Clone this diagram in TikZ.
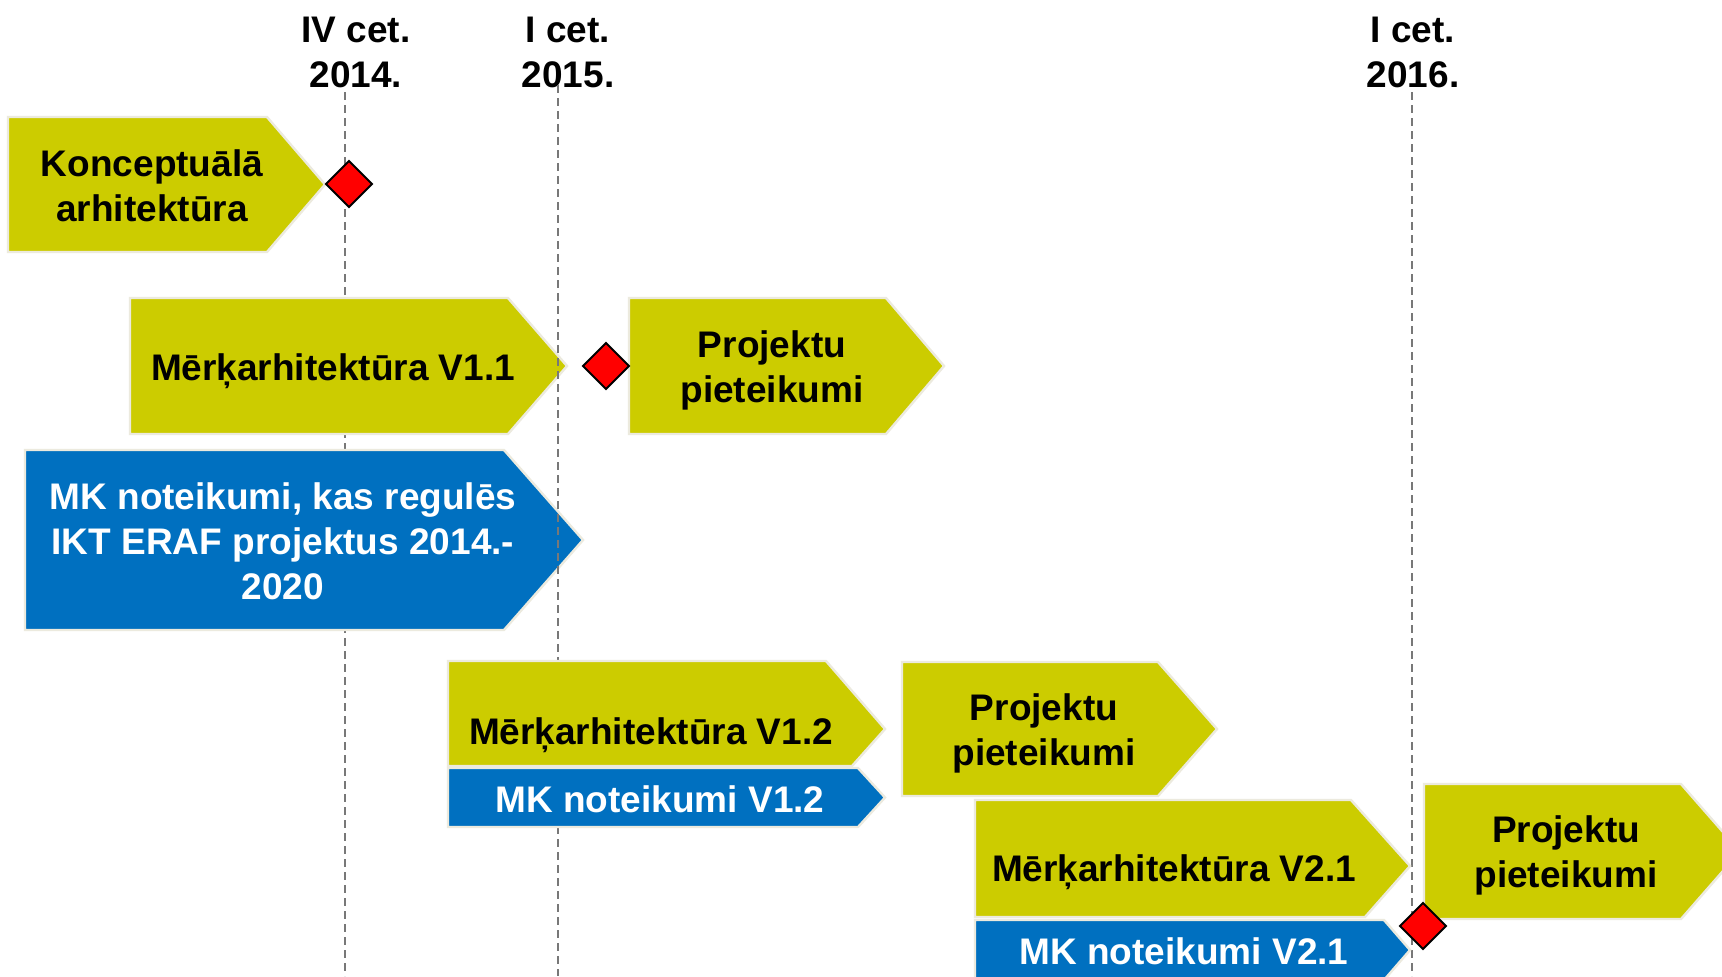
\documentclass[tikz,border=0pt]{standalone}
\usepackage{fontspec}
\setmainfont{Liberation Sans}
\definecolor{chy}{RGB}{204,204,0}
\definecolor{chb}{RGB}{0,112,192}
\definecolor{edgec}{RGB}{236,234,222}
\definecolor{guide}{RGB}{120,120,120}
\begin{document}
\begin{tikzpicture}[x=0.5pt,y=-0.5pt,
  yellowbox/.style={fill=chy,draw=edgec,line width=1.2pt,line join=miter},
  bluebox/.style={fill=chb,draw=edgec,line width=1.2pt,line join=miter},
  guideline/.style={draw=guide,line width=1.1pt,dash pattern=on 4pt off 2.5pt},
  milestone/.style={fill=red,draw=black,line width=1pt,line join=miter},
  lbl/.style={font=\fontsize{18.5}{22.5}\selectfont\bfseries,align=center,inner sep=0pt},
  wlbl/.style={lbl,text=white}]
\useasboundingbox (0,0) rectangle (1722,976);
\clip (0,0) rectangle (1722,976);
\fill[white] (0,0) rectangle (1722,976);

% time axis labels
\node[lbl] (q4) at (356,52) {IV cet.\\2014.};
\node[lbl] (q1a) at (568,52) {I cet.\\2015.};
\node[lbl] (q1b) at (1413,52) {I cet.\\2016.};

% guide line 1 (behind boxes)
\coordinate (g1t) at (345,92);
\coordinate (g1b) at (345,976);
\draw[guideline] (g1t) -- (g1b);

% Konceptuala arhitektura
\path[yellowbox] (8,117) -- (267,117) -- (325,184.5) -- (267,252) -- (8,252) -- cycle;
\node[lbl] (konc) at (152,186) {Konceptuālā\\arhitektūra};

% Merkarhitektura V1.1
\path[yellowbox] (130,298) -- (508,298) -- (567,366) -- (508,434) -- (130,434) -- cycle;
\node[lbl] (m11) at (333,371) {Mērķarhitektūra V1.1};

% Projektu pieteikumi 1
\path[yellowbox] (629,298) -- (886,298) -- (944,366) -- (886,434) -- (629,434) -- cycle;
\node[lbl] (pp1) at (772,370) {Projektu\\pieteikumi};

% MK noteikumi big
\path[bluebox] (25,450) -- (504,450) -- (583,540) -- (504,630) -- (25,630) -- cycle;
\node[wlbl] (mkbig) at (283,541) {MK noteikumi, kas regulēs\\IKT ERAF projektus 2014.-\\2020};

% guide line 2
\coordinate (g2t) at (558,85);
\coordinate (g2b) at (558,976);
\draw[guideline] (g2t) -- (g2b);

% Merkarhitektura V1.2
\path[yellowbox] (448,661) -- (826,661) -- (885,729) -- (852,766) -- (448,766) -- cycle;
\node[lbl] (m12) at (651,735) {Mērķarhitektūra V1.2};

% MK noteikumi V1.2
\path[bluebox] (448,768) -- (858,768) -- (885,797.5) -- (858,827) -- (448,827) -- cycle;
\node[wlbl] (mk12) at (660,799) {MK noteikumi V1.2};

% Projektu pieteikumi 2
\path[yellowbox] (902,662) -- (1158,662) -- (1217,729) -- (1158,796) -- (902,796) -- cycle;
\node[lbl] (pp2) at (1044,733) {Projektu\\pieteikumi};

% guide line 3
\coordinate (g3t) at (1412,92);
\coordinate (g3b) at (1412,976);
\draw[guideline] (g3t) -- (g3b);

% Merkarhitektura V2.1
\path[yellowbox] (975,800) -- (1351,800) -- (1410,866) -- (1365,917) -- (975,917) -- cycle;
\node[lbl] (m21) at (1174,872) {Mērķarhitektūra V2.1};

% MK noteikumi V2.1
\path[bluebox] (975,920) -- (1384,920) -- (1410,950) -- (1384,980) -- (975,980) -- cycle;
\node[wlbl] (mk21) at (1184,951) {MK noteikumi V2.1};

% Projektu pieteikumi 3
\path[yellowbox] (1424,784) -- (1681,784) -- (1740,851.5) -- (1681,919) -- (1424,919) -- cycle;
\node[lbl] (pp3) at (1566,855) {Projektu\\pieteikumi};

% milestones
\path[milestone] (349,161) -- (372,184) -- (349,207) -- (326,184) -- cycle;
\path[milestone] (606,343) -- (629,366) -- (606,389) -- (583,366) -- cycle;
\path[milestone] (1423,903) -- (1446,926) -- (1423,949) -- (1400,926) -- cycle;
\end{tikzpicture}
\end{document}
